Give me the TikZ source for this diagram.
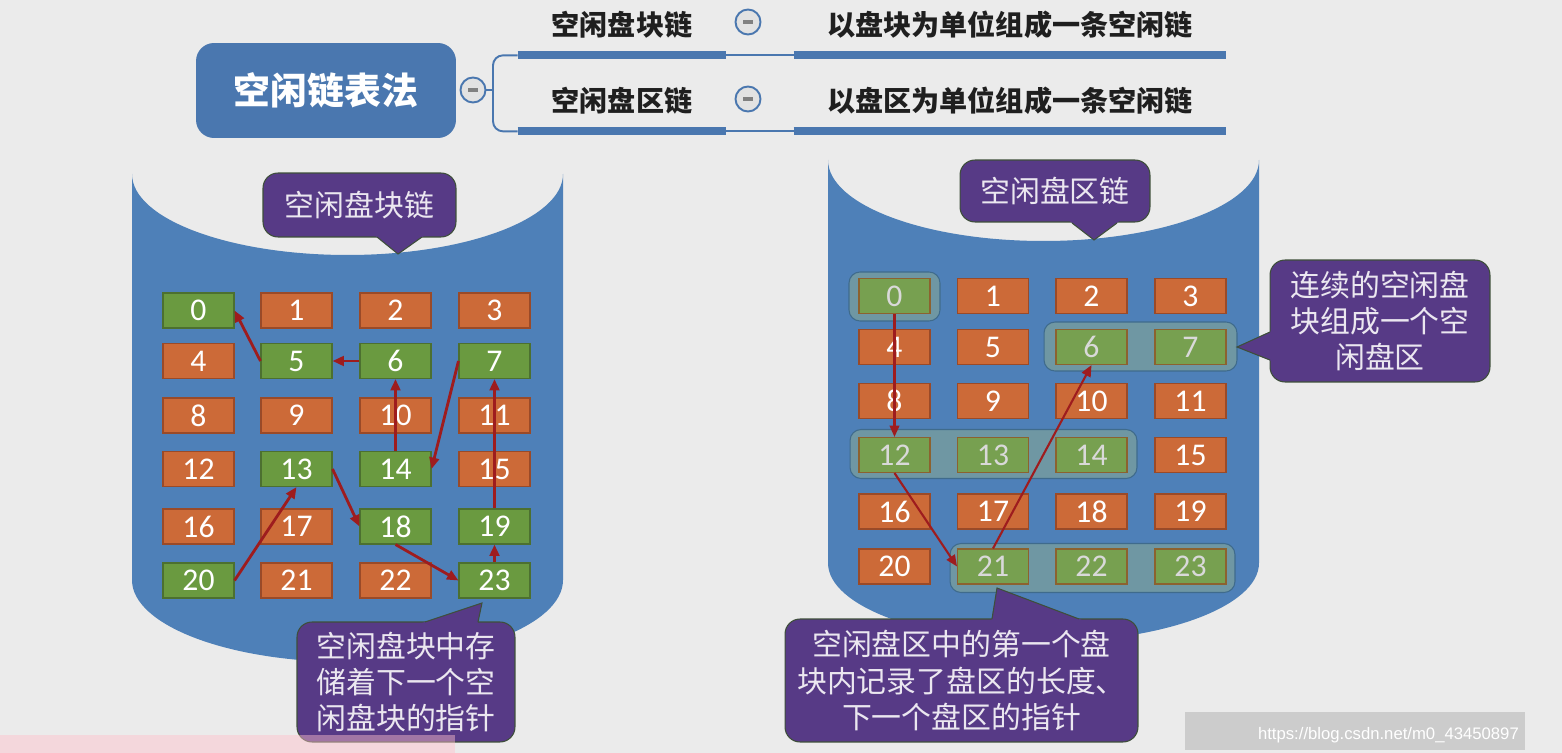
\documentclass[tikz,border=0pt]{standalone}
\usepackage{fontspec}
\setmainfont{Noto Sans CJK SC}
\newfontfamily\digitfont{Carlito}
\newfontfamily\urlfont{Liberation Sans}
\usepackage{tikz}
\usetikzlibrary{arrows.meta}
\usepackage[svgnames]{xcolor}

\definecolor{bgcol}{HTML}{EBEBEB}
\definecolor{diskblue}{HTML}{4E80B8}
\definecolor{topicblue}{HTML}{4A77AF}
\definecolor{tipviolet}{HTML}{573A86}
\definecolor{tipedge}{HTML}{3E4F3A}
\definecolor{freegreen}{HTML}{6A9A40}
\definecolor{freeedge}{HTML}{4C7030}
\definecolor{usedorange}{HTML}{CC6A38}
\definecolor{usededge}{HTML}{9A4A28}
\definecolor{linkred}{HTML}{9E1C1E}
\definecolor{zonegray}{HTML}{6F97A3}
\definecolor{zoneedge}{HTML}{3F6B8C}
\definecolor{zonegreen}{HTML}{77A050}

\begin{document}
\begin{tikzpicture}[x=0.02cm, y=-0.02cm,
    used/.style={draw=usededge, fill=usedorange, line width=0.6pt, minimum width=1.42cm, minimum height=0.7cm, inner sep=0pt, text=white, font=\digitfont\fontsize{18}{18}\selectfont},
    free/.style={used, draw=freeedge, fill=freegreen},
    zonefree/.style={used, draw=usededge!70!freegreen, fill=zonegreen, text=white!85!black},
    zone/.style={draw=zoneedge, fill=zonegray, rounded corners=0.22cm, line width=0.6pt, minimum height=0.98cm},
    link/.style={->, >={Triangle[length=6.5pt,width=5.5pt]}, draw=linkred, fill=linkred, line width=1.6pt},
    tip/.style={draw=tipedge, fill=tipviolet, rounded corners=0.3cm, text=white!88!tipviolet, font=\fontsize{17}{20.5}\selectfont, align=center, inner sep=0pt, line width=0.6pt},
    root/.style={fill=topicblue, rounded corners=0.36cm, minimum width=5.2cm, minimum height=1.9cm, text=white, font=\bfseries\fontsize{21}{21}\selectfont},
    topic/.style={minimum height=1.2cm, inner sep=0pt, text=black!88, font=\bfseries\fontsize{16}{16}\selectfont},
    fold/.style={circle, draw=topicblue, fill=bgcol!96!black, line width=1.1pt, minimum size=0.5cm, inner sep=0pt, text=gray},
    bar/.style={topicblue, line width=4.5pt},
    branch/.style={topicblue, line width=1.1pt}]

    \fill[bgcol] (0,0) rectangle (1562,753);
    \useasboundingbox (0,0) rectangle (1562,753);

    \node[root] (root) at (326,90.5) {空闲链表法};
    \node[fold] (f0) at (473,90) {\rule{5.5pt}{1.8pt}};
    \node[topic, minimum width=4.16cm] (t1) at (622,25) {空闲盘块链};
    \node[topic, minimum width=8.64cm] (d1) at (1010,25) {以盘块为单位组成一条空闲链};
    \node[topic, minimum width=4.16cm] (t2) at (622,101) {空闲盘区链};
    \node[topic, minimum width=8.64cm] (d2) at (1010,101) {以盘区为单位组成一条空闲链};
    \node[fold] (f1) at (748,22) {\rule{5.5pt}{1.8pt}};
    \node[fold] (f2) at (748,99) {\rule{5.5pt}{1.8pt}};
    \coordinate (fork) at (493,90);

    \draw[branch] (f0) -- (fork);
    \draw[branch, rounded corners=0.2cm] (t1.south west) -- (t1.south west -| fork) -- (t2.south west -| fork) -- (t2.south west);
    \draw[bar] (t1.south west) -- (t1.south east);
    \draw[bar] (t2.south west) -- (t2.south east);
    \draw[bar] (d1.south west) -- (d1.south east);
    \draw[bar] (d2.south west) -- (d2.south east);
    \draw[branch] (t1.south east) -- (d1.south west);
    \draw[branch] (t2.south east) -- (d2.south west);

    \fill[diskblue] (132,174) -- (132,580) .. controls (132,625.3) and (228.5,662) .. (347.5,662)
        .. controls (466.5,662) and (563,625.3) .. (563,580) -- (563,174)
        .. controls (563,218.7) and (466.5,255) .. (347.5,255)
        .. controls (228.5,255) and (132,218.7) .. (132,174) -- cycle;
    \fill[diskblue] (828,160) -- (828,563) .. controls (828,606.6) and (924.5,642) .. (1043.5,642)
        .. controls (1162.5,642) and (1259,606.6) .. (1259,563) -- (1259,160)
        .. controls (1259,204.7) and (1162.5,241) .. (1043.5,241)
        .. controls (924.5,241) and (828,204.7) .. (828,160) -- cycle;

    \node[free] (l0) at (198.5,310.5) {0};
    \node[used] (l1) at (296.5,310.5) {1};
    \node[used] (l2) at (395.5,310.5) {2};
    \node[used] (l3) at (494.5,310.5) {3};
    \node[used] (l4) at (198.5,361) {4};
    \node[free] (l5) at (296.5,361) {5};
    \node[free] (l6) at (395.5,361) {6};
    \node[free] (l7) at (494.5,361) {7};
    \node[used] (l8) at (198.5,415.5) {8};
    \node[used] (l9) at (296.5,415.5) {9};
    \node[used] (l10) at (395.5,415.5) {10};
    \node[used] (l11) at (494.5,415.5) {11};
    \node[used] (l12) at (198.5,469) {12};
    \node[free] (l13) at (296.5,469) {13};
    \node[free] (l14) at (395.5,469) {14};
    \node[used] (l15) at (494.5,469) {15};
    \node[used] (l16) at (198.5,526.5) {16};
    \node[used] (l17) at (296.5,526.5) {17};
    \node[free] (l18) at (395.5,526.5) {18};
    \node[free] (l19) at (494.5,526.5) {19};
    \node[free] (l20) at (198.5,580.5) {20};
    \node[used] (l21) at (296.5,580.5) {21};
    \node[used] (l22) at (395.5,580.5) {22};
    \node[free] (l23) at (494.5,580.5) {23};

    \draw[link] (l20.east) -- (l13.south);
    \draw[link] (l13.east) -- (l18.west);
    \draw[link] (l18.south) -- (l23.west);
    \draw[link] (l23.north) -- (l19.south);
    \draw[link] (l19.north) -- (l7.south);
    \draw[link] (l7.west) -- (l14.east);
    \draw[link] (l14.north) -- (l6.south);
    \draw[link] (l6.west) -- (l5.east);
    \draw[link] (l5.west) -- (l0.east);

    \node[zone, minimum width=1.82cm] (z0) at (894.5,296.5) {};
    \node[zone, minimum width=3.86cm] (z6) at (1140.5,346.5) {};
    \node[zone, minimum width=5.74cm] (z12) at (993.5,454) {};
    \node[zone, minimum width=5.7cm] (z21) at (1092.5,568) {};

    \node[zonefree] (r0) at (894.5,296) {0};
    \node[used] (r1) at (993,296) {1};
    \node[used] (r2) at (1091.5,296) {2};
    \node[used] (r3) at (1190.5,296) {3};
    \node[used] (r4) at (894.5,347) {4};
    \node[used] (r5) at (993,347) {5};
    \node[zonefree] (r6) at (1091.5,347) {6};
    \node[zonefree] (r7) at (1190.5,347) {7};
    \node[used] (r8) at (894.5,401) {8};
    \node[used] (r9) at (993,401) {9};
    \node[used] (r10) at (1091.5,401) {10};
    \node[used] (r11) at (1190.5,401) {11};
    \node[zonefree] (r12) at (894.5,455) {12};
    \node[zonefree] (r13) at (993,455) {13};
    \node[zonefree] (r14) at (1091.5,455) {14};
    \node[used] (r15) at (1190.5,455) {15};
    \node[used] (r16) at (894.5,511.5) {16};
    \node[used] (r17) at (993,511.5) {17};
    \node[used] (r18) at (1091.5,511.5) {18};
    \node[used] (r19) at (1190.5,511.5) {19};
    \node[used] (r20) at (894.5,566.5) {20};
    \node[zonefree] (r21) at (993,566.5) {21};
    \node[zonefree] (r22) at (1091.5,566.5) {22};
    \node[zonefree] (r23) at (1190.5,566.5) {23};

    \draw[link, line width=1.2pt] (r0.south) -- (r12.north);
    \draw[link, line width=1.2pt] (r12.south) -- (r21.west);
    \draw[link, line width=1.2pt] (r21.north) -- (r6.south);

    \node[tip, minimum width=3.86cm, minimum height=1.28cm] (c1) at (359.5,205) {空闲盘块链};
    \fill[tipviolet] (372,233) -- (398,254) -- (428,233) -- cycle;
    \draw[tipedge, line width=0.6pt] (377,237) -- (398,254) -- (422,237);

    \node[tip, minimum width=3.8cm, minimum height=1.24cm] (c2) at (1055,191) {空闲盘区链};
    \fill[tipviolet] (1067,219) -- (1094,240) -- (1122,219) -- cycle;
    \draw[tipedge, line width=0.6pt] (1072,223) -- (1094,240) -- (1117,223);

    \node[tip, minimum width=4.4cm, minimum height=2.44cm] (c3) at (1380,321) {连续的空闲盘\\块组成一个空\\闲盘区};
    \fill[tipviolet] (1274,330) -- (1237,347) -- (1274,362) -- cycle;
    \draw[tipedge, line width=0.6pt] (1270,332) -- (1237,347) -- (1270,360);

    \node[tip, minimum width=4.36cm, minimum height=2.4cm] (c4) at (406,682) {空闲盘块中存\\储着下一个空\\闲盘块的指针};
    \fill[tipviolet] (413,626) -- (482,603) -- (477,626) -- cycle;
    \draw[tipedge, line width=0.6pt] (425,622) -- (482,603) -- (478,622);

    \node[tip, minimum width=7.06cm, minimum height=2.46cm] (c5) at (961.5,680.5) {空闲盘区中的第一个盘\\块内记录了盘区的长度、\\下一个盘区的指针};
    \fill[tipviolet] (991,623) -- (997,588) -- (1090,623) -- cycle;
    \draw[tipedge, line width=0.6pt] (992,619) -- (997,588) -- (1079,619);

    \fill[Pink, opacity=0.45] (0,735) rectangle (455,753);
    \fill[black!20] (1185,712) rectangle (1525,750);
    \node[text=white, font=\urlfont\fontsize{9.5}{9.5}\selectfont, anchor=east] (mark) at (1525,735) {https://blog.csdn.net/m0\_43450897};
\end{tikzpicture}
\end{document}
